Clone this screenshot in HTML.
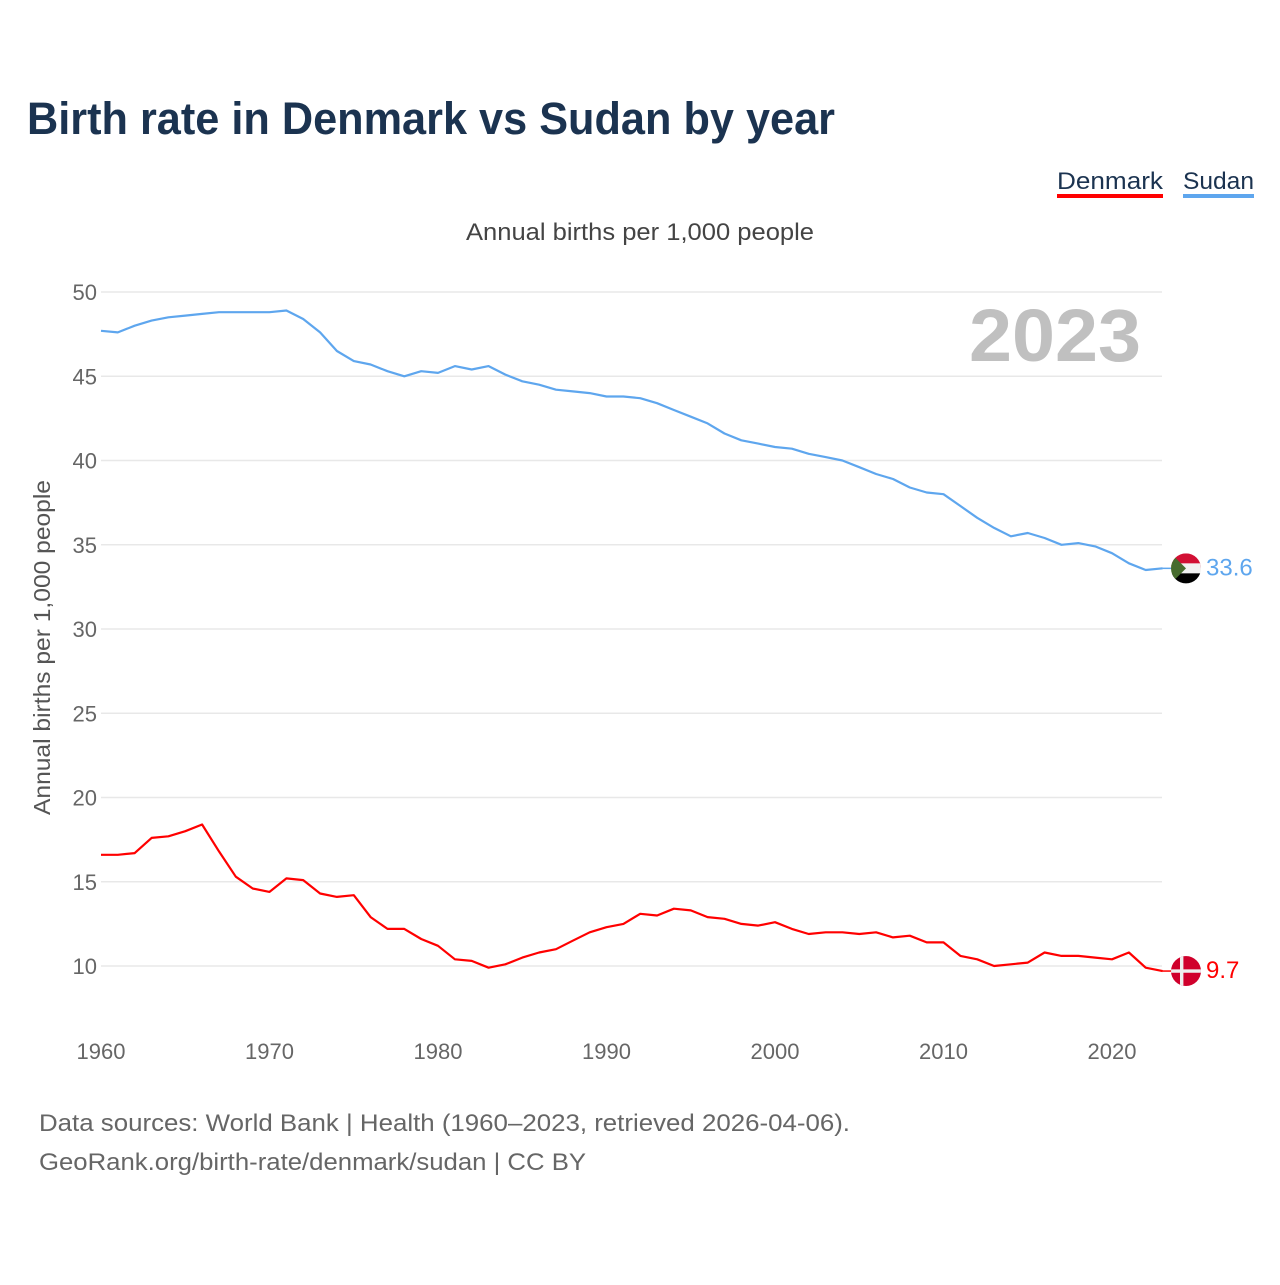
<!DOCTYPE html>
<html><head><meta charset="utf-8"><style>
html,body{margin:0;padding:0;background:#fff;}
body{width:1280px;height:1280px;position:relative;font-family:"Liberation Sans",sans-serif;overflow:hidden;}
</style></head><body>
<svg id="chart" width="1280" height="1280" xmlns="http://www.w3.org/2000/svg" font-family="Liberation Sans, sans-serif">
<text x="27" y="134" font-size="45" font-weight="bold" fill="#1b3350" textLength="808" lengthAdjust="spacingAndGlyphs">Birth rate in Denmark vs Sudan by year</text>
<g>
<text x="1057" y="189" font-size="24" fill="#1b3350" textLength="106" lengthAdjust="spacingAndGlyphs">Denmark</text>
<rect x="1057" y="194" width="106" height="4" fill="#ff0000"/></g>
<g>
<text x="1183" y="189" font-size="24" fill="#1b3350" textLength="71" lengthAdjust="spacingAndGlyphs">Sudan</text>
<rect x="1183" y="194" width="71" height="4" fill="#5ea6ee"/></g>
<text x="466" y="240" font-size="24" fill="#444" textLength="348" lengthAdjust="spacingAndGlyphs">Annual births per 1,000 people</text>
<text x="1141" y="361" font-size="74" font-weight="bold" fill="#c0c0c0" text-anchor="end" textLength="172" lengthAdjust="spacingAndGlyphs">2023</text>
<text transform="translate(50,815) rotate(-90)" font-size="23" fill="#555" textLength="335" lengthAdjust="spacingAndGlyphs">Annual births per 1,000 people</text>
<g id="grid"></g><g id="xt"></g><g id="series"></g>
<text x="39" y="1131" font-size="24" fill="#666" textLength="811" lengthAdjust="spacingAndGlyphs">Data sources: World Bank | Health (1960–2023, retrieved 2026-04-06).</text>
<text x="39" y="1170" font-size="24" fill="#666" textLength="547" lengthAdjust="spacingAndGlyphs">GeoRank.org/birth-rate/denmark/sudan | CC BY</text>
</svg>
<script>
const years=[];for(let y=1960;y<=2023;y++)years.push(y);
const denmark=[16.6,16.6,16.7,17.6,17.7,18.0,18.4,16.8,15.3,14.6,14.4,15.2,15.1,14.3,14.1,14.2,12.9,12.2,12.2,11.6,11.2,10.4,10.3,9.9,10.1,10.5,10.8,11.0,11.5,12.0,12.3,12.5,13.1,13.0,13.4,13.3,12.9,12.8,12.5,12.4,12.6,12.2,11.9,12.0,12.0,11.9,12.0,11.7,11.8,11.4,11.4,10.6,10.4,10.0,10.1,10.2,10.8,10.6,10.6,10.5,10.4,10.8,9.9,9.7];
const sudan=[47.7,47.6,48.0,48.3,48.5,48.6,48.7,48.8,48.8,48.8,48.8,48.9,48.4,47.6,46.5,45.9,45.7,45.3,45.0,45.3,45.2,45.6,45.4,45.6,45.1,44.7,44.5,44.2,44.1,44.0,43.8,43.8,43.7,43.4,43.0,42.6,42.2,41.6,41.2,41.0,40.8,40.7,40.4,40.2,40.0,39.6,39.2,38.9,38.4,38.1,38.0,37.3,36.6,36.0,35.5,35.7,35.4,35.0,35.1,34.9,34.5,33.9,33.5,33.6];
const yTicks=[10,15,20,25,30,35,40,45,50];
const xTicks=[1960,1970,1980,1990,2000,2010,2020];
const NS="http://www.w3.org/2000/svg";
const xs=y=>101+(y-1960)*(1011/60);
const ys=v=>292+(50-v)*(674/40);
function mk(t,a,p){const e=document.createElementNS(NS,t);for(const k in a)e.setAttribute(k,a[k]);p.appendChild(e);return e;}
const grid=document.getElementById('grid');
yTicks.forEach(v=>{
 const l=mk('line',{x1:101,x2:1162,y1:ys(v),y2:ys(v),stroke:'#e8e8e8','stroke-width':1.5},grid);
 
 
 const t=mk('text',{x:97,y:ys(v)+8,'font-size':22,fill:'#666','text-anchor':'end'},grid);t.textContent=v;
 
 
});
const xt=document.getElementById('xt');
xTicks.forEach(v=>{
 const t=mk('text',{x:xs(v),y:1059,'font-size':22,fill:'#666','text-anchor':'middle'},xt);t.textContent=v;
 
 
});
const s=document.getElementById('series');
function line(vals,col,name){
 const d=vals.map((v,i)=>(i?'L':'M')+xs(years[i]).toFixed(1)+','+ys(v).toFixed(1)).join('');
 const p=mk('path',{d:d,fill:'none',stroke:col,'stroke-width':2.2,'stroke-linejoin':'round'},s);
 
 
 const lx=xs(2023),ly=ys(vals[vals.length-1]);
 mk('line',{x1:lx,x2:1172,y1:ly,y2:ly,stroke:col,'stroke-width':1.5},s);
 return ly;
}
const ly1=line(sudan,'#5ea6ee','sudan');
const ly2=line(denmark,'#ff0000','denmark');
const cx=1186,R=15;
const defs=mk('defs',{},s);
const c1=mk('clipPath',{id:'c1'},defs);mk('circle',{cx:cx,cy:ly1,r:R},c1);
const c2=mk('clipPath',{id:'c2'},defs);mk('circle',{cx:cx,cy:ly2,r:R},c2);
const f1=mk('g',{'clip-path':'url(#c1)'},s);


mk('rect',{x:cx-R,y:ly1-R,width:2*R,height:R,fill:'#d21034'},f1);
mk('rect',{x:cx-R,y:ly1-5,width:2*R,height:10,fill:'#f2f2f2'},f1);
mk('rect',{x:cx-R,y:ly1+5,width:2*R,height:R,fill:'#000'},f1);
mk('polygon',{points:`${cx-R},${ly1-R} ${cx},${ly1} ${cx-R},${ly1+R}`,fill:'#476c2e'},f1);
const f2=mk('g',{'clip-path':'url(#c2)'},s);


mk('rect',{x:cx-R,y:ly2-R,width:2*R,height:2*R,fill:'#d0002c'},f2);
mk('rect',{x:cx-R,y:ly2-1.7,width:2*R,height:3.4,fill:'#eee'},f2);
mk('rect',{x:cx-6,y:ly2-R,width:3.4,height:2*R,fill:'#eee'},f2);
const t1=mk('text',{x:1206,y:ly1+7,'font-size':24,fill:'#5ea6ee'},s);t1.textContent=sudan[sudan.length-1].toFixed(1);


const t2=mk('text',{x:1206,y:ly2+7,'font-size':24,fill:'#ff0000'},s);t2.textContent=denmark[denmark.length-1].toFixed(1);


</script>
</body></html>
